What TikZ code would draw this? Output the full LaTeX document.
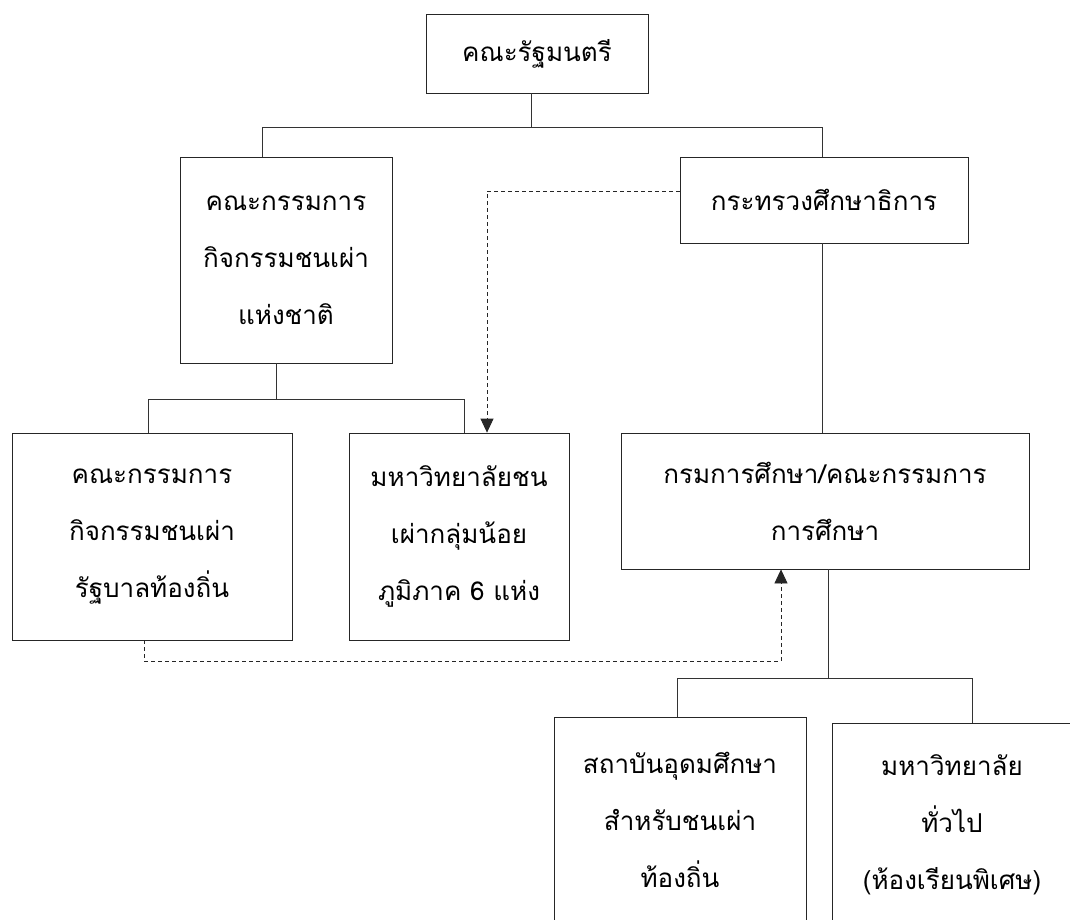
\documentclass[tikz,border=0pt]{standalone}
\usepackage{fontspec}
\newfontfamily\thaifont[Script=Thai]{Loma}
\usetikzlibrary{arrows.meta}
\begin{document}
\begin{tikzpicture}[x=1pt,y=-1pt,
  box/.style={draw=black!85, line width=0.8pt, inner sep=0pt, align=center,
    font={\thaifont\fontsize{26}{57}\selectfont}},
  conn/.style={draw=black!80, line width=0.8pt},
  dconn/.style={draw=black!85, line width=0.8pt, dash pattern=on 4pt off 3pt,
    -{Triangle[width=13pt,length=14pt]}}]
\useasboundingbox (0,0) rectangle (1070,919);
\fill[white] (0,0) rectangle (1070,919);
% boxes
\node[box, minimum width=222, minimum height=79] (cab) at (537,53.5) {คณะรัฐมนตรี};
\node[box, minimum width=212, minimum height=206] (nat) at (286,260) {คณะกรรมการ\\กิจกรรมชนเผ่า\\แห่งชาติ};
\node[box, minimum width=288, minimum height=86] (moe) at (824,200) {กระทรวงศึกษาธิการ};
\node[box, minimum width=280, minimum height=207] (loc) at (152,536.5) {คณะกรรมการ\\กิจกรรมชนเผ่า\\รัฐบาลท้องถิ่น};
\node[box, minimum width=220, minimum height=207] (uni) at (459,536.5) {มหาวิทยาลัยชน\\เผ่ากลุ่มน้อย\\ภูมิภาค 6 แห่ง};
\node[box, minimum width=408, minimum height=136] (dep) at (825,501) {กรมการศึกษา/คณะกรรมการ\\การศึกษา};
\node[box, minimum width=252, minimum height=206] (inst) at (680,820) {สถาบันอุดมศึกษา\\สำหรับชนเผ่า\\ท้องถิ่น};
\node[box, minimum width=240, minimum height=204] (gen) at (952,825) {มหาวิทยาลัย\\ทั่วไป\\(ห้องเรียนพิเศษ)};
% bus coordinates
\coordinate (b1L) at (262,127);
\coordinate (b1M) at (531,127);
\coordinate (b1R) at (822,127);
\coordinate (b2L) at (148,399);
\coordinate (b2M) at (276,399);
\coordinate (b2R) at (464,399);
\coordinate (b3L) at (677,678);
\coordinate (b3M) at (828,678);
\coordinate (b3R) at (972,678);
\coordinate (d1) at (487,191);
\coordinate (d2a) at (144,661);
\coordinate (d2b) at (781,661);
% solid connectors
\draw[conn] (cab.south -| b1M) -- (b1M);
\draw[conn] (nat.north -| b1L) -- (b1L) -- (b1R) -- (moe.north -| b1R);
\draw[conn] (nat.south -| b2M) -- (b2M);
\draw[conn] (loc.north -| b2L) -- (b2L) -- (b2R) -- (uni.north -| b2R);
\draw[conn] (moe.south -| b1R) -- (dep.north -| b1R);
\draw[conn] (dep.south -| b3M) -- (b3M);
\draw[conn] (inst.north -| b3L) -- (b3L) -- (b3R) -- (gen.north -| b3R);
% dashed connectors
\draw[dconn] (moe.west |- d1) -- (d1) -- (uni.north -| d1);
\draw[dconn] (loc.south -| d2a) -- (d2a) -- (d2b) -- (dep.south -| d2b);
\end{tikzpicture}
\end{document}
